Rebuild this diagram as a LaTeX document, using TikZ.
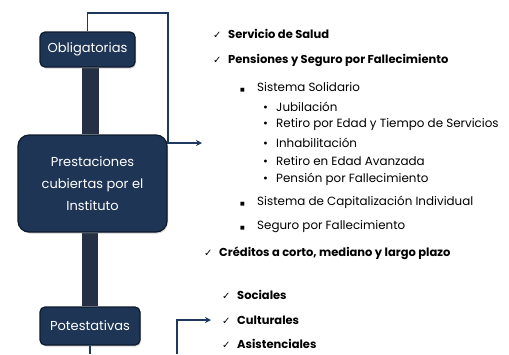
\documentclass[tikz,border=0pt]{standalone}
\usepackage{fontspec}
\setmainfont{Poppins}
\newfontfamily\symfont{DejaVu Sans}
\usetikzlibrary{arrows.meta,
	backgrounds,
	calc,
	shadows}

\definecolor{boxblue}{RGB}{30,53,86}
\definecolor{boxedge}{RGB}{14,26,44}
\definecolor{linkblue}{RGB}{31,56,94}
\definecolor{barblue}{RGB}{38,48,68}

\newcommand{\chk}{\makebox[15pt][l]{\symfont\fontsize{10}{12}\selectfont\mdseries ✓}}
\newcommand{\sqb}{\makebox[17pt][l]{\symfont\tiny ■}}
\newcommand{\dotb}{\makebox[13pt][l]{•}}

\begin{document}
\begin{tikzpicture}[x=1pt,y=-1pt,>={Stealth[length=6pt,width=6pt]}]
    \tikzstyle{topic}=[draw=boxedge,line width=1.2pt,fill=boxblue,text=white,align=center,
      font=\fontsize{13}{22}\selectfont,drop shadow={shadow xshift=1pt,shadow yshift=-1.5pt,opacity=0.35}]
    \tikzstyle{item}=[anchor=west,inner sep=0pt,font=\fontsize{11.9}{13}\selectfont]
    \tikzstyle{head}=[item,font=\fontsize{11.5}{13}\selectfont\bfseries]
    \tikzstyle{conn}=[draw=linkblue,line width=1.5pt]
    \useasboundingbox (0,0) rectangle (509,354);
    \node[topic,rounded corners=5pt,minimum width=95pt,minimum height=35pt] (obl) at (87.5,49.5) {Obligatorias};
    \node[topic,rounded corners=11pt,minimum width=149pt,minimum height=97pt] (prest) at (92.5,183.5) {Prestaciones\\cubiertas por el\\Instituto};
    \node[topic,rounded corners=5pt,minimum width=100pt,minimum height=38pt] (pot) at (90,326) {Potestativas};
    \begin{scope}[on background layer]
      \fill[barblue] ($(obl.south)+(-6,0)$) rectangle ($(prest.north)+(6.5,0)$);
      \fill[barblue] ($(prest.south)+(-10.5,0)$) rectangle ($(pot.north)+(8,0)$);
    \end{scope}
    % obligatorias
    \node[head] (salud) at (213,34) {\chk Servicio de Salud};
    \node[head] (pens) at (213,60) {\chk Pensiones y Seguro por Fallecimiento};
    \node[item] (solid) at (240,87) {\sqb Sistema Solidario};
    \node[item] (jub) at (263,107) {\dotb Jubilación};
    \node[item] (ret) at (263,125) {\dotb Retiro por Edad y Tiempo de Servicios};
    \node[item] (inhab) at (263,143) {\dotb Inhabilitación};
    \node[item] (retav) at (263,161) {\dotb Retiro en Edad Avanzada};
    \node[item] (penf) at (263,179) {\dotb Pensión por Fallecimiento};
    \node[item] (capit) at (240,202) {\sqb Sistema de Capitalización Individual};
    \node[item] (segf) at (240,227) {\sqb Seguro por Fallecimiento};
    \node[head] (cred) at (204,253) {\chk Créditos a corto, mediano y largo plazo};
    % potestativas
    \node[head] (soc) at (222,295) {\chk Sociales};
    \node[head] (cult) at (222,320) {\chk Culturales};
    \node[head] (asist) at (222,344) {\chk Asistenciales};
    \coordinate (obl-end) at (202,143);
    \coordinate (pot-foot) at (pot.south |- 0,354);
    \coordinate (cult-foot) at (177,354);
    \draw[conn,->] (obl.north) |- (168,13) |- (obl-end);
    \draw[conn] (pot.south) -- (pot-foot);
    \draw[conn,->,shorten >=11pt] (cult-foot) |- (cult.west);
\end{tikzpicture}
\end{document}
